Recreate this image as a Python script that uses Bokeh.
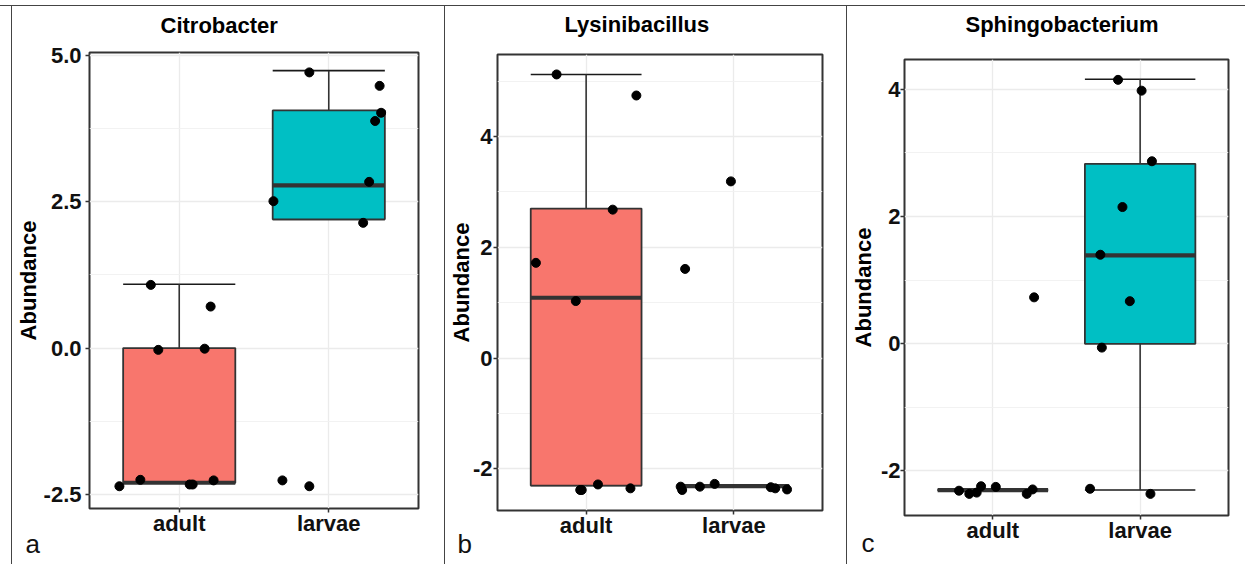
from bokeh.plotting import figure
from bokeh.models import Range1d, FixedTicker, Title, Spacer, ColumnDataSource
from bokeh.layouts import row, column
from bokeh.embed import file_html
from bokeh.resources import INLINE

# ---------------- data ----------------
GROUPS = ["adult", "larvae"]
GROUP_POS = [1, 2]
FILL = ["#F8766D", "#00BFC4"]

# Citrobacter (a)
CITRO_Q1 = [-2.30, 2.20]
CITRO_MED = [-2.30, 2.78]
CITRO_Q3 = [0.00, 4.06]
CITRO_LO = [-2.30, 2.20]
CITRO_HI = [1.09, 4.74]
CITRO_ADULT_Y = [1.08, 0.71, -0.03, -0.01, -2.36, -2.25, -2.33, -2.33, -2.26]
CITRO_ADULT_JIT = [-0.19, 0.21, -0.14, 0.17, -0.40, -0.26, 0.07, 0.09, 0.23]
CITRO_LARVAE_Y = [4.71, 4.48, 4.02, 3.88, 2.84, 2.51, 2.14, -2.26, -2.36]
CITRO_LARVAE_JIT = [-0.13, 0.34, 0.35, 0.31, 0.27, -0.37, 0.23, -0.31, -0.13]
CITRO_TICKS = [-2.5, 0.0, 2.5, 5.0]
CITRO_MINOR = [-1.25, 1.25, 3.75]
CITRO_TICK_LABELS = ["-2.5", "0.0", "2.5", "5.0"]

# Lysinibacillus (b)
LYSI_Q1 = [-2.30, -2.31]
LYSI_MED = [1.09, -2.31]
LYSI_Q3 = [2.70, -2.31]
LYSI_LO = [-2.30, -2.31]
LYSI_HI = [5.12, -2.31]
LYSI_ADULT_Y = [5.12, 4.74, 2.68, 1.72, 1.03, -2.38, -2.38, -2.28, -2.35]
LYSI_ADULT_JIT = [-0.20, 0.34, 0.18, -0.34, -0.07, -0.04, -0.03, 0.08, 0.30]
LYSI_LARVAE_Y = [3.19, 1.61, -2.32, -2.38, -2.32, -2.27, -2.33, -2.35, -2.37]
LYSI_LARVAE_JIT = [-0.02, -0.33, -0.36, -0.35, -0.23, -0.13, 0.25, 0.28, 0.36]
LYSI_TICKS = [-2, 0, 2, 4]
LYSI_MINOR = [-1, 1, 3, 5]
LYSI_TICK_LABELS = ["-2", "0", "2", "4"]

# Sphingobacterium (c)
SPHI_Q1 = [-2.30, 0.00]
SPHI_MED = [-2.30, 1.39]
SPHI_Q3 = [-2.30, 2.83]
SPHI_LO = [-2.30, -2.30]
SPHI_HI = [-2.30, 4.16]
SPHI_ADULT_Y = [0.73, -2.31, -2.36, -2.34, -2.24, -2.25, -2.36, -2.29]
SPHI_ADULT_JIT = [0.28, -0.23, -0.16, -0.11, -0.08, 0.02, 0.23, 0.27]
SPHI_LARVAE_Y = [4.15, 3.98, 2.87, 2.15, 1.40, 0.67, -0.06, -2.28, -2.36]
SPHI_LARVAE_JIT = [-0.15, 0.01, 0.08, -0.12, -0.27, -0.07, -0.26, -0.34, 0.07]
SPHI_TICKS = [-2, 0, 2, 4]
SPHI_MINOR = [-1, 1, 3]
SPHI_TICK_LABELS = ["-2", "0", "2", "4"]

TITLES = ["Citrobacter", "Lysinibacillus", "Sphingobacterium"]
LETTERS = ["a", "b", "c"]

FONT = "Liberation Sans"
FS = "22px"
BOX_W = 0.75
ROW_H = 558


def make_panel(title, letter, q1, med, q3, lo, hi, ay, ajit, ly, ljit,
               ticks, minor, tick_labels, yr, width, borders, title_off,
               filler_standoff, letter_off, letter_standoff, ystand):
    bl, br, bt, bb = borders
    p = figure(width=width, height=ROW_H,
               x_range=Range1d(0.4, 2.6), y_range=Range1d(*yr),
               output_backend="svg", toolbar_location=None,
               min_border_left=bl, min_border_right=br,
               min_border_top=bt, min_border_bottom=bb,
               background_fill_color="white", border_fill_color="white",
               outline_line_color="#333333", outline_line_width=2,
               title=title, margin=0, frame_align=False)
    p.title.align = "left"
    p.title.vertical_align = "bottom"
    p.title.offset = title_off
    p.title.standoff = 0
    p.title.text_font = FONT
    p.title.text_font_style = "bold"
    p.title.text_font_size = FS
    p.title.text_color = "#000000"
    # invisible spacer between frame and title
    p.add_layout(Title(text=" ", text_font_size="10px", standoff=filler_standoff),
                 "above")

    half = BOX_W / 2
    src = ColumnDataSource(dict(
        x=GROUP_POS,
        left=[g - half for g in GROUP_POS],
        right=[g + half for g in GROUP_POS],
        q1=q1, med=med, q3=q3, lo=lo, hi=hi, fill=FILL, group=GROUPS))

    # error-bar caps and whiskers
    p.segment(x0="left", x1="right", y0="hi", y1="hi", source=src,
              line_color="#1a1a1a", line_width=1.6)
    p.segment(x0="left", x1="right", y0="lo", y1="lo", source=src,
              line_color="#1a1a1a", line_width=1.6)
    p.segment(x0="x", x1="x", y0="q3", y1="hi", source=src,
              line_color="#333333", line_width=1.6)
    p.segment(x0="x", x1="x", y0="lo", y1="q1", source=src,
              line_color="#333333", line_width=1.6)
    # boxes
    p.quad(left="left", right="right", bottom="q1", top="q3", source=src,
           fill_color="fill", line_color="#333333", line_width=1.8)
    # medians
    p.segment(x0="left", x1="right", y0="med", y1="med", source=src,
              line_color="#333333", line_width=4.2)

    # jittered points
    px = [GROUP_POS[0] + j for j in ajit] + [GROUP_POS[1] + j for j in ljit]
    py = list(ay) + list(ly)
    p.scatter(px, py, size=9, color="black")

    # axes
    p.xaxis.ticker = FixedTicker(ticks=GROUP_POS)
    p.xaxis.major_label_overrides = {g: n for g, n in zip(GROUP_POS, GROUPS)}
    p.yaxis.ticker = FixedTicker(ticks=ticks, minor_ticks=minor)
    p.yaxis.major_label_overrides = {t: s for t, s in zip(ticks, tick_labels)}
    for ax in (p.xaxis[0], p.yaxis[0]):
        ax.axis_line_color = None
        ax.major_tick_line_color = "#333333"
        ax.major_tick_line_width = 1.5
        ax.major_tick_out = 4
        ax.major_tick_in = 0
        ax.minor_tick_line_color = None
        ax.major_label_text_font = FONT
        ax.major_label_text_font_style = "bold"
        ax.major_label_text_font_size = FS
        ax.major_label_text_color = "#111111"
    p.xaxis.major_label_standoff = -2
    p.yaxis.major_label_standoff = ystand[0]
    p.yaxis.axis_label = "Abundance"
    p.yaxis.axis_label_text_font = FONT
    p.yaxis.axis_label_text_font_style = "bold"
    p.yaxis.axis_label_text_font_size = FS
    p.yaxis.axis_label_text_color = "#000000"
    p.yaxis.axis_label_standoff = ystand[1]

    # grid
    p.xgrid.grid_line_color = "#EBEBEB"
    p.xgrid.grid_line_width = 1.3
    p.ygrid.grid_line_color = "#EBEBEB"
    p.ygrid.grid_line_width = 1.3
    p.ygrid.minor_grid_line_color = "#F0F0F0"
    p.ygrid.minor_grid_line_width = 0.9

    # panel letter below the x axis
    p.add_layout(Title(text=letter, align="left", vertical_align="top",
                       offset=letter_off, standoff=letter_standoff,
                       text_font=FONT, text_font_style="normal",
                       text_font_size="26px", text_color="#111111"), "below")
    return p


pa = make_panel(TITLES[0], LETTERS[0], CITRO_Q1, CITRO_MED, CITRO_Q3, CITRO_LO,
                CITRO_HI, CITRO_ADULT_Y, CITRO_ADULT_JIT, CITRO_LARVAE_Y,
                CITRO_LARVAE_JIT, CITRO_TICKS, CITRO_MINOR, CITRO_TICK_LABELS,
                (-2.74, 5.05), 432, (76, 26, 46, 56), 71, 2.4, -64, -19.8,
                (4, 0))
pb = make_panel(TITLES[1], LETTERS[1], LYSI_Q1, LYSI_MED, LYSI_Q3, LYSI_LO,
                LYSI_HI, LYSI_ADULT_Y, LYSI_ADULT_JIT, LYSI_LARVAE_Y,
                LYSI_LARVAE_JIT, LYSI_TICKS, LYSI_MINOR, LYSI_TICK_LABELS,
                (-2.75, 5.48), 401, (52, 24, 48, 54), 67, 5.4, -40, -23.8,
                (1, -4))
pc = make_panel(TITLES[2], LETTERS[2], SPHI_Q1, SPHI_MED, SPHI_Q3, SPHI_LO,
                SPHI_HI, SPHI_ADULT_Y, SPHI_ADULT_JIT, SPHI_LARVAE_Y,
                SPHI_LARVAE_JIT, SPHI_TICKS, SPHI_MINOR, SPHI_TICK_LABELS,
                (-2.70, 4.47), 398, (56, 17, 53, 49), 61, 10.4, -43, -35.8,
                (0, 2))

LINE = {"background-color": "#444444"}
sep = lambda: Spacer(width=1, height=ROW_H, margin=0, styles=LINE)

layout = column(
    Spacer(width=1245, height=5, margin=0),
    Spacer(width=1245, height=1, margin=0, styles=LINE),
    row(Spacer(width=11, height=ROW_H, margin=0), sep(), pa, sep(), pb, sep(), pc),
)

open("out.html", "w").write(file_html(layout, INLINE, title="Abundance"))
